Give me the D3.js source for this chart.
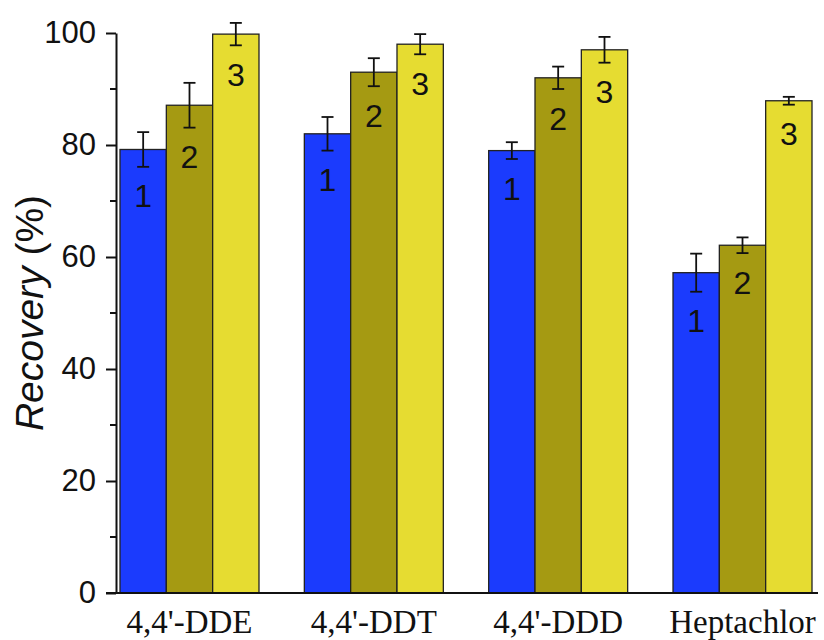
<!DOCTYPE html>
<html>
<head>
<meta charset="utf-8">
<script src="https://cdn.jsdelivr.net/npm/d3@7"></script>
<style>
    body { margin: 0; background: #fff; }
    svg { display: block; }
    .tick text { font-family: "Liberation Sans", Arial, sans-serif; }
</style>
</head>
<body>
<div id="chart"></div>
<script>
// data
const categories = ["4,4'-DDE", "4,4'-DDT", "4,4'-DDD", "Heptachlor"];
const seriesNames = ["1", "2", "3"];
const recovery1 = [79.2, 82.0, 79.0, 57.2];
const recovery2 = [87.1, 93.0, 92.0, 62.1];
const recovery3 = [99.8, 98.0, 97.0, 87.9];
const error1 = [3.1, 3.0, 1.5, 3.4];
const error2 = [4.0, 2.5, 2.0, 1.4];
const error3 = [2.0, 1.8, 2.3, 0.7];
const yTicks = [0, 20, 40, 60, 80, 100];
const yMinorTicks = [10, 30, 50, 70, 90];

const colors = ["#1b3bfd", "#a59a12", "#e6dc31"];

const width = 824, height = 640;

const svg = d3.select("#chart").append("svg")
    .attr("width", width)
    .attr("height", height);

const y = d3.scaleLinear()
    .domain([0, 100])
    .range([593, 33]);

const x = d3.scaleBand()
    .domain(categories)
    .range([120, 812])
    .paddingInner(0.246)
    .paddingOuter(0);

const xSub = d3.scaleBand()
    .domain(seriesNames)
    .range([0, x.bandwidth()]);

// build rows for drawing
const values = [recovery1, recovery2, recovery3];
const errors = [error1, error2, error3];
let rows = [];
categories.forEach((c, i) => {
    seriesNames.forEach((s, j) => {
        rows.push({cat: c, series: s, idx: j, value: values[j][i], err: errors[j][i]});
    });
});

// bars
svg.append("g").selectAll("rect")
    .data(rows)
    .enter().append("rect")
    .attr("x", d => x(d.cat) + xSub(d.series))
    .attr("y", d => y(d.value))
    .attr("width", xSub.bandwidth())
    .attr("height", d => y(0) - y(d.value))
    .attr("fill", d => colors[d.idx])
    .attr("stroke", "#222")
    .attr("stroke-width", 1.3);

// error bars
const eb = svg.append("g")
    .attr("stroke", "#111")
    .attr("stroke-width", 1.8);

rows.forEach(d => {
    let cx = x(d.cat) + xSub(d.series) + xSub.bandwidth() / 2;
    eb.append("line")
        .attr("x1", cx).attr("x2", cx)
        .attr("y1", y(d.value + d.err)).attr("y2", y(d.value - d.err));
    [d.value + d.err, d.value - d.err].forEach(v => {
        eb.append("line")
            .attr("x1", cx - 6).attr("x2", cx + 6)
            .attr("y1", y(v)).attr("y2", y(v));
    });
});

// series numbers inside the bars
svg.append("g").selectAll("text")
    .data(rows)
    .enter().append("text")
    .attr("x", d => x(d.cat) + xSub(d.series) + xSub.bandwidth() / 2)
    .attr("y", d => y(d.value - d.err) + 29)
    .attr("dy", "0.36em")
    .attr("text-anchor", "middle")
    .attr("font-family", "'Liberation Sans', Arial, sans-serif")
    .attr("font-size", 32)
    .attr("fill", "#111")
    .text(d => d.series);

// y axis
const yAxis = svg.append("g")
    .attr("transform", "translate(116,0)")
    .call(d3.axisLeft(y).tickValues(yTicks).tickSize(10).tickSizeOuter(0).tickPadding(10));
yAxis.selectAll(".tick text").attr("font-size", 31).attr("fill", "#111");
yAxis.selectAll("line, path").attr("stroke", "#111").attr("stroke-width", 2);

svg.append("g").selectAll("line")
    .data(yMinorTicks)
    .enter().append("line")
    .attr("x1", 110).attr("x2", 116)
    .attr("y1", d => y(d)).attr("y2", d => y(d))
    .attr("stroke", "#111")
    .attr("stroke-width", 2);

// x axis line
svg.append("line")
    .attr("x1", 106).attr("x2", 818)
    .attr("y1", y(0)).attr("y2", y(0))
    .attr("stroke", "#111")
    .attr("stroke-width", 2.2);

// category labels
svg.append("g").selectAll("text")
    .data(categories)
    .enter().append("text")
    .attr("x", d => x(d) + x.bandwidth() / 2)
    .attr("y", 633)
    .attr("text-anchor", "middle")
    .attr("font-family", "'Liberation Serif', 'Times New Roman', serif")
    .attr("font-size", 33)
    .attr("fill", "#111")
    .text(d => d);

// y title
const title = svg.append("text")
    .attr("transform", `translate(43, ${(y(0) + y(100)) / 2}) rotate(-90)`)
    .attr("text-anchor", "middle")
    .attr("font-family", "'Liberation Sans', Arial, sans-serif")
    .attr("font-size", 39)
    .attr("fill", "#111");
title.append("tspan").attr("font-style", "italic").text("Recovery");
title.append("tspan").text(" (%)");
</script>
</body>
</html>
